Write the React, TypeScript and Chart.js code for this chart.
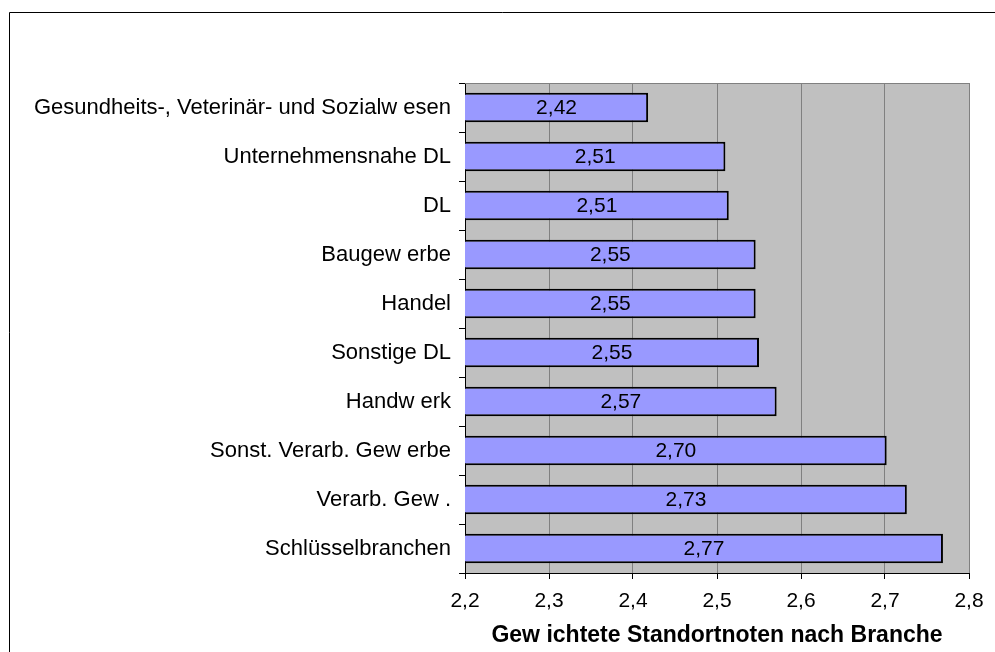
import React, { useEffect, useRef } from "react";
import { Chart, registerables } from "chart.js";

Chart.register(...registerables);

const categories = [
  "Gesundheits-, Veterinär- und Sozialw esen",
  "Unternehmensnahe DL",
  "DL",
  "Baugew erbe",
  "Handel",
  "Sonstige DL",
  "Handw erk",
  "Sonst. Verarb. Gew erbe",
  "Verarb. Gew .",
  "Schlüsselbranchen",
];

const values = [2.418, 2.51, 2.514, 2.546, 2.546, 2.55, 2.571, 2.702, 2.726, 2.769];

const xMin = 2.2;
const xMax = 2.8;
const xStep = 0.1;
const xTitle = "Gew ichtete Standortnoten nach Branche";

const FONT = "'Liberation Sans', Arial, sans-serif";

const fmt = (v: number) => v.toFixed(2).replace(".", ",");

const plotBgPlugin = {
  id: "plotBg",
  beforeDraw(chart: any) {
    const { ctx, chartArea: a } = chart;
    ctx.save();
    ctx.fillStyle = "#ffffff";
    ctx.fillRect(0, 0, chart.width, chart.height);
    ctx.strokeStyle = "#000000";
    ctx.lineWidth = 1;
    ctx.beginPath();
    ctx.moveTo(9.5, chart.height);
    ctx.lineTo(9.5, 12.5);
    ctx.lineTo(chart.width, 12.5);
    ctx.stroke();
    ctx.fillStyle = "#C0C0C0";
    ctx.fillRect(a.left, a.top, a.right - a.left, a.bottom - a.top);
    ctx.restore();
  },
  afterDraw(chart: any) {
    const { ctx, chartArea: a } = chart;
    ctx.save();
    ctx.strokeStyle = "#808080";
    ctx.lineWidth = 1;
    ctx.beginPath();
    ctx.moveTo(a.left, a.top + 0.5);
    ctx.lineTo(a.right + 0.5, a.top + 0.5);
    ctx.lineTo(a.right + 0.5, a.bottom);
    ctx.stroke();
    const xs = chart.scales.x;
    const ys = chart.scales.y;
    const data = chart.data.datasets[0].data as number[];
    ctx.fillStyle = "#000";
    ctx.font = `21px ${FONT}`;
    ctx.textAlign = "center";
    ctx.textBaseline = "middle";
    data.forEach((v: number, i: number) => {
      const x0 = xs.getPixelForValue(xMin);
      const x1 = xs.getPixelForValue(v);
      const cy = ys.getPixelForValue(i);
      ctx.fillText(fmt(v), (x0 + x1) / 2, cy + 1);
    });
    ctx.restore();
  },
};

export default function App() {
  const ref = useRef<HTMLCanvasElement | null>(null);
  useEffect(() => {
    if (!ref.current) return;
    const chart = new Chart(ref.current, {
      type: "bar",
      data: {
        labels: categories,
        datasets: [
          {
            data: values,
            backgroundColor: "#9999FF",
            borderColor: "#000000",
            borderWidth: 2,
            borderSkipped: false,
            barPercentage: 0.6,
            categoryPercentage: 1,
          },
        ],
      },
      options: {
        indexAxis: "y",
        responsive: false,
        animation: false,
        devicePixelRatio: 1,
        layout: { padding: { left: 0, right: 26, top: 83, bottom: 0 } },
        plugins: {
          legend: { display: false },
          tooltip: { enabled: false },
          title: { display: false },
        },
        scales: {
          x: {
            type: "linear",
            min: xMin,
            max: xMax,
            afterFit: (s: any) => {
              s.height = 79;
            },
            ticks: {
              stepSize: xStep,
              color: "#000",
              font: { family: FONT, size: 21 },
              padding: 10,
              callback: (v: any) => Number(v).toFixed(1).replace(".", ","),
            },
            grid: {
              color: "#808080",
              lineWidth: 1,
              drawTicks: true,
              tickLength: 6,
              tickColor: "#000",
            },
            border: { color: "#000", width: 1 },
            title: {
              display: true,
              text: xTitle,
              color: "#000",
              font: { family: FONT, size: 23, weight: "bold" },
              padding: { top: 4, bottom: 3 },
            },
          },
          y: {
            type: "category",
            afterFit: (s: any) => {
              s.width = 465;
            },
            ticks: {
              color: "#000",
              font: { family: FONT, size: 22 },
              padding: 8,
            },
            grid: {
              offset: true,
              drawOnChartArea: false,
              drawTicks: true,
              tickLength: 6,
              tickColor: "#000",
            },
            border: { color: "#000", width: 1 },
          },
        },
      },
      plugins: [plotBgPlugin],
    });
    return () => chart.destroy();
  }, []);
  return (
    <div style={{ position: "absolute", left: 0, top: 0, width: 995, height: 652, background: "#fff" }}>
      <canvas ref={ref} width={995} height={652} style={{ display: "block", width: 995, height: 652 }} />
    </div>
  );
}
